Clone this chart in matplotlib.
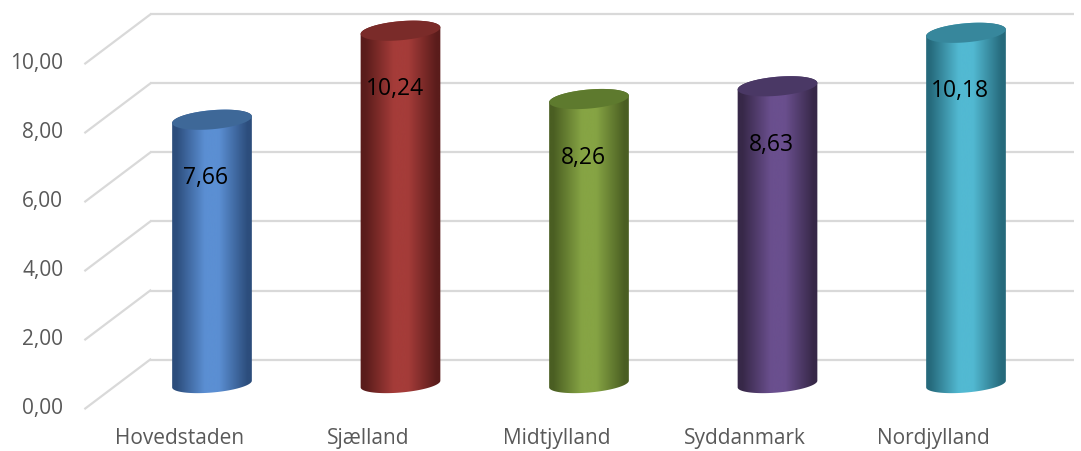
import matplotlib
matplotlib.use("Agg")
import matplotlib.pyplot as plt
import numpy as np
from matplotlib.colors import LinearSegmentedColormap
from matplotlib.patches import Polygon

regions = ["Hovedstaden", "Sjælland", "Midtjylland", "Syddanmark", "Nordjylland"]
values = [7.66, 10.24, 8.26, 8.63, 10.18]
labels = ["7,66", "10,24", "8,26", "8,63", "10,18"]
yticks = [0, 2, 4, 6, 8, 10]
ytick_labels = ["0,00", "2,00", "4,00", "6,00", "8,00", "10,00"]

# (dark edge, light centre, top cap)
colors = [
    ("#2c4d7c", "#5b8fd3", "#3e6898"),
    ("#5a1c1b", "#a53c39", "#7a2b29"),
    ("#4a5e22", "#86a444", "#5e7a2e"),
    ("#372848", "#6a4f8e", "#4a3865"),
    ("#266a7c", "#52b9d2", "#37879c"),
]

plt.rcParams['font.family'] = ['Open Sans', 'DejaVu Sans']

W, H = 1081, 451
fig = plt.figure(figsize=(W / 100, H / 100), dpi=100)
ax = fig.add_axes([0, 0, 1, 1])
ax.axis('off')

# px per unit
sx, sy = 188.5, 34.5
x0px, y0px = 212, 67
xlim = (-x0px / sx, (W - x0px) / sx)
ylim = (-y0px / sy, (H - y0px) / sy)

# depth of the floor (half), in data units
dxu, dyu = 32.5 / sx, 24.5 / sy
gl, gr = -0.5, 4.4
grid_col = "#d9d9d9"

for v in yticks:
    ax.plot([gl + dxu, gr + dxu], [v + dyu, v + dyu], color=grid_col, lw=1.6,
            zorder=1, solid_capstyle='butt')
    ax.plot([gl - dxu, gl + dxu], [v - dyu, v + dyu], color=grid_col, lw=1.6,
            zorder=1)

for v, t in zip(yticks, ytick_labels):
    ax.text(gl - dxu - 22 / sx, v - dyu, t, ha='right', va='center',
            fontsize=15, color="#595959")

for i, r in enumerate(regions):
    ax.text(i - dxu, -dyu - 30 / sy, r, ha='center', va='center',
            fontsize=15, color="#595959")


def ellipse(cx, cy, t, a=40, b=8.5, th=np.deg2rad(5)):
    ex = a * np.cos(t) * np.cos(th) - b * np.sin(t) * np.sin(th)
    ey = a * np.cos(t) * np.sin(th) + b * np.sin(t) * np.cos(th)
    return cx + ex / sx, cy + ey / sy


for i, (v, lab, (dark, light, top)) in enumerate(zip(values, labels, colors)):
    tb = np.linspace(np.pi, 2 * np.pi, 60)
    tt = np.linspace(0, np.pi, 60)
    bx, by = ellipse(i, 0, tb)
    tx, ty = ellipse(i, v, tt, b=9.5)
    body = Polygon(np.column_stack([np.r_[bx, tx], np.r_[by, ty]]),
                   closed=True, facecolor='none', edgecolor='none')
    ax.add_patch(body)
    cmap = LinearSegmentedColormap.from_list(
        "c%d" % i, [(0, dark), (0.1, dark), (0.42, light), (0.58, light),
                    (0.9, dark), (1, dark)])
    grad = np.linspace(0, 1, 200)[np.newaxis, :]
    im = ax.imshow(grad, extent=(i - 45 / sx, i + 45 / sx, -1, v + 1),
                   aspect='auto', cmap=cmap, interpolation='bicubic', zorder=2)
    im.set_clip_path(body)

    ta = np.linspace(0, 2 * np.pi, 120)
    cx, cy = ellipse(i, v, ta, b=9.5)
    ax.add_patch(Polygon(np.column_stack([cx, cy]), closed=True,
                         facecolor=top, edgecolor='none', zorder=3))

    ax.text(i - 6 / sx, v - 1.7, lab, ha='center', va='center',
            fontsize=16.5, color='black', zorder=4)

ax.set_xlim(*xlim)
ax.set_ylim(*ylim)

fig.savefig("out.png", dpi=100, facecolor='white')
